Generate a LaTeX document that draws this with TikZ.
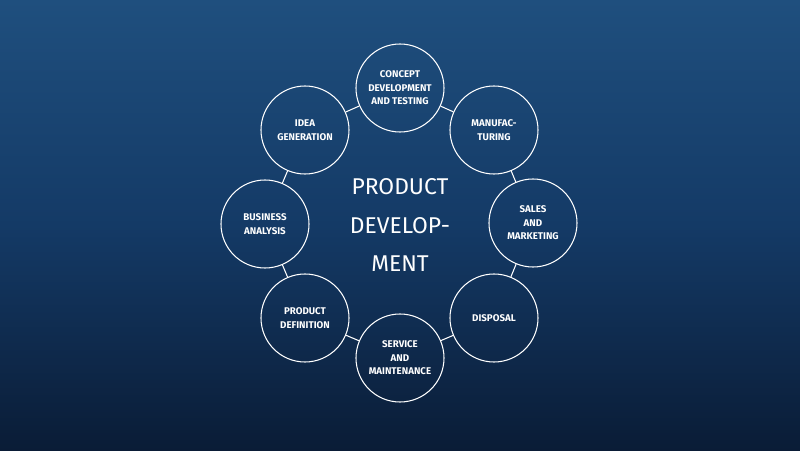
\documentclass[tikz,border=0pt]{standalone}
\usepackage{fontspec}
\setmainfont{Fira Sans}
\definecolor{bgtop}{HTML}{1F4F7E}
\definecolor{bgbot}{HTML}{0A1C36}
\definecolor{bgmid}{HTML}{143A66}
\begin{document}
\begin{tikzpicture}
        [x=0.03cm,y=-0.03cm,
         stage/.style={draw=white,line width=0.9pt,shape=circle,minimum size=2.64cm,inner sep=0,align=center,text=white,font=\fontsize{8.3}{11.5}\selectfont\bfseries}]

        \shade[top color=bgtop,bottom color=bgbot,middle color=bgmid] (0,0) rectangle (800,451);
        \useasboundingbox (0,0) rectangle (800,451);

        \node[text=white,align=center,font=\fontsize{19.5}{33}\selectfont] (core) at (400,225) {PRODUCT\\DEVELOP-\\MENT};

        \node[stage] (concept) at (400,88) {CONCEPT\\DEVELOPMENT\\AND TESTING};
        \node[stage] (manuf) at (494,130) {MANUFAC-\\TURING};
        \node[stage] (sales) at (533,223) {SALES\\AND\\MARKETING};
        \node[stage] (disposal) at (494,318) {DISPOSAL};
        \node[stage] (service) at (400,358) {SERVICE\\AND\\MAINTENANCE};
        \node[stage] (defn) at (305,318) {PRODUCT\\DEFINITION};
        \node[stage] (business) at (265,224) {BUSINESS\\ANALYSIS};
        \node[stage] (idea) at (305,130) {IDEA\\GENERATION};

        \draw[white,line width=0.9pt] (concept) -- (manuf);
        \draw[white,line width=0.9pt] (manuf) -- (sales);
        \draw[white,line width=0.9pt] (sales) -- (disposal);
        \draw[white,line width=0.9pt] (disposal) -- (service);
        \draw[white,line width=0.9pt] (service) -- (defn);
        \draw[white,line width=0.9pt] (defn) -- (business);
        \draw[white,line width=0.9pt] (business) -- (idea);
        \draw[white,line width=0.9pt] (idea) -- (concept);
      \end{tikzpicture}
\end{document}
